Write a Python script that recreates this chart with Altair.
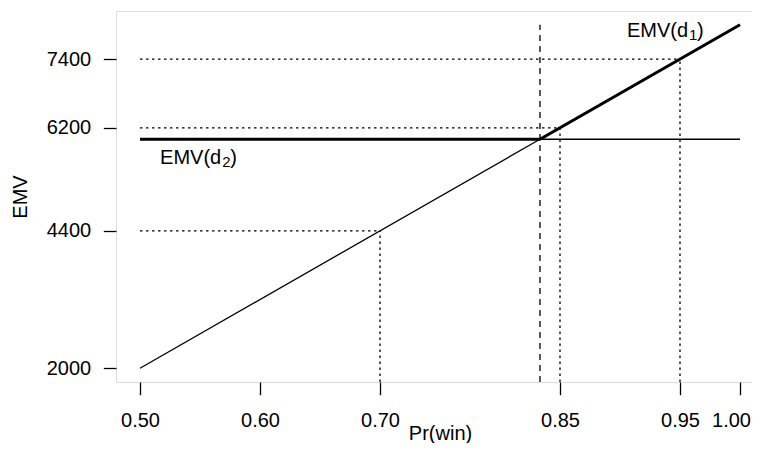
import altair as alt
import pandas as pd

# data
p_vals = [0.50, 0.8333, 1.00]
emv_d1 = [2000, 6000, 8000]
emv_d2 = [6000, 6000, 6000]
guide_p = [0.70, 0.85, 0.95]
guide_emv = [4400, 6200, 7400]
breakeven_p = 0.8333
x_ticks = [0.50, 0.60, 0.70, 0.85, 0.95, 1.00]
y_ticks = [2000, 4400, 6200, 7400]

XDOM = [0.48, 1.02]
YDOM = [1760, 8240]
FONT = "Liberation Sans"
FS = 20

xs = alt.Scale(domain=XDOM, nice=False, zero=False)
ys = alt.Scale(domain=YDOM, nice=False, zero=False)

lines = pd.DataFrame(
    {"p": p_vals * 2, "emv": emv_d1 + emv_d2,
     "s": ["d1"] * 3 + ["d2"] * 3, "o": [0, 1, 2] * 2}
)
env = pd.DataFrame({"p": p_vals, "emv": [emv_d2[0], emv_d1[1], emv_d1[2]], "o": [0, 1, 2]})
guides = pd.DataFrame({"p": guide_p, "emv": guide_emv, "x0": [XDOM[0] + 0.02] * 3, "y0": [YDOM[0]] * 3})
be = pd.DataFrame({"p": [breakeven_p], "y0": [YDOM[0]], "y1": [emv_d1[2]]})

xaxis = alt.Axis(values=x_ticks, format=".2f", title="Pr(win)", grid=False, domain=False,
                 tickSize=12.7, tickWidth=1.3, tickColor="black",
                 labelFont=FONT, labelFontSize=FS, labelColor="black",
                 labelBaseline="alphabetic", labelPadding=32,
                 labelOffset={"condition": {"test": "datum.value >= 0.999", "value": -9}, "value": 0},
                 titleFont=FONT, titleFontSize=FS, titleFontWeight="normal", titleColor="black",
                 titleBaseline="alphabetic", titleY=57, labelFlush=False)
yaxis = alt.Axis(values=y_ticks, format="d", title="EMV", grid=False, domain=False,
                 tickSize=12.7, tickWidth=1.3, tickColor="black",
                 labelFont=FONT, labelFontSize=FS, labelColor="black",
                 labelBaseline="middle", labelPadding=12.6,
                 titleFont=FONT, titleFontSize=FS, titleFontWeight="normal", titleColor="black",
                 titleBaseline="alphabetic", titleX=-90, labelFlush=False)

thin = alt.Chart(lines).mark_line(color="black", strokeWidth=1.3).encode(
    x=alt.X("p:Q", scale=xs, axis=xaxis),
    y=alt.Y("emv:Q", scale=ys, axis=yaxis),
    detail="s:N", order="o:Q")
thick = alt.Chart(env).mark_line(color="black", strokeWidth=3).encode(
    x=alt.X("p:Q", scale=xs), y=alt.Y("emv:Q", scale=ys), order="o:Q")
hdot = alt.Chart(guides).mark_rule(color="black", strokeWidth=1.3, strokeDash=[2.5, 3.5]).encode(
    x=alt.X("x0:Q", scale=xs), x2="p:Q", y=alt.Y("emv:Q", scale=ys))
vdot = alt.Chart(guides).mark_rule(color="black", strokeWidth=1.3, strokeDash=[2.5, 3.5]).encode(
    x=alt.X("p:Q", scale=xs), y=alt.Y("y0:Q", scale=ys), y2="emv:Q")
dash = alt.Chart(be).mark_rule(color="black", strokeWidth=1.3, strokeDash=[6, 5]).encode(
    x=alt.X("p:Q", scale=xs), y=alt.Y("y0:Q", scale=ys), y2="y1:Q")

# annotation anchors (right end of "EMV(d", text baseline)
labels = pd.DataFrame({"p": [0.9567, 0.5677], "emv": [7790, 5570], "sub": ["1", "2"]})

main_t = alt.Chart(labels).mark_text(font=FONT, fontSize=FS, color="black", baseline="alphabetic",
                                     align="right").encode(
    x=alt.X("p:Q", scale=xs), y=alt.Y("emv:Q", scale=ys), text=alt.value("EMV(d"))
sub_t = alt.Chart(labels).mark_text(font=FONT, fontSize=15, color="black", baseline="alphabetic",
                                    align="left", dx=1, dy=3.5).encode(
    x=alt.X("p:Q", scale=xs), y=alt.Y("emv:Q", scale=ys), text="sub:N")
close_t = alt.Chart(labels).mark_text(font=FONT, fontSize=FS, color="black", baseline="alphabetic",
                                      align="left", dx=9).encode(
    x=alt.X("p:Q", scale=xs), y=alt.Y("emv:Q", scale=ys), text=alt.value(")"))

chart = alt.layer(thin, hdot, vdot, dash, thick, main_t, sub_t, close_t).properties(
    width=648, height=371,
    padding={"left": 108, "top": 3, "right": -12, "bottom": 61},
    autosize=alt.AutoSizeParams(type="none"),
).configure_view(stroke="black", strokeWidth=1.5).configure(background="white")

chart.save("out.html", embed_options={"renderer": "svg", "actions": False})
